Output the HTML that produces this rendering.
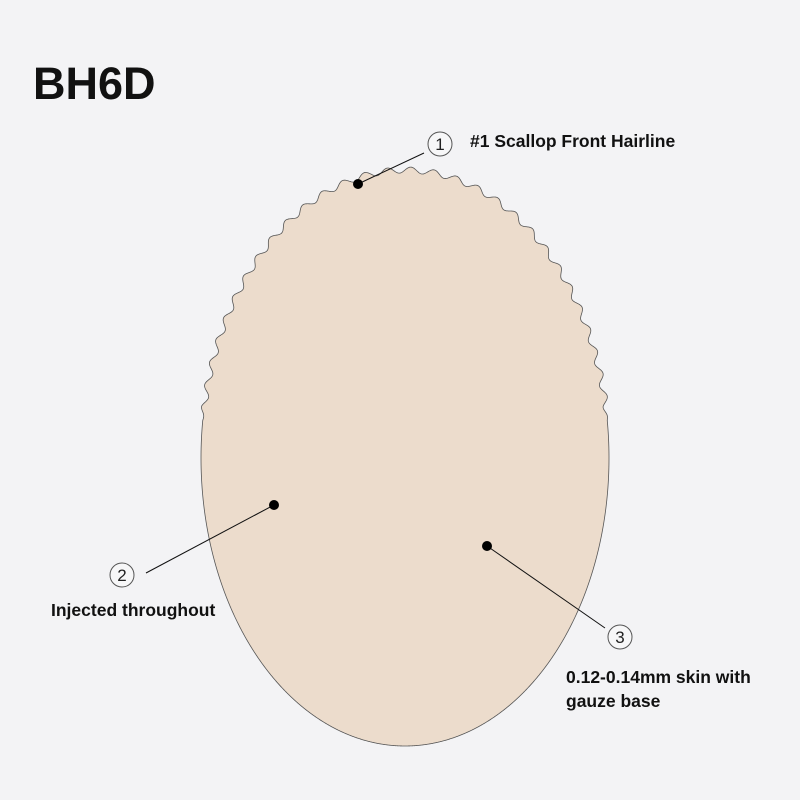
<!DOCTYPE html>
<html><head><meta charset="utf-8"><style>
html,body{margin:0;padding:0;background:#f3f3f5;}
body{width:800px;height:800px;position:relative;overflow:hidden;font-family:"Liberation Sans",sans-serif;color:#111;}
.t{position:absolute;white-space:nowrap;}
</style></head><body>
<div class="t" style="left:33px;top:58px;font-size:45px;font-weight:bold;">BH6D</div>
<svg width="800" height="800" style="position:absolute;left:0;top:0">
<path id="oval" fill="#ecdccc" stroke="#555" stroke-width="0.8" d=""/>
<g stroke="#111" stroke-width="1" fill="none">
<line x1="358" y1="184" x2="424" y2="153"/>
<line x1="274" y1="505" x2="146" y2="573"/>
<line x1="487" y1="546" x2="605" y2="628"/>
</g>
<g fill="#000"><circle cx="358" cy="184" r="5"/><circle cx="274" cy="505" r="5"/><circle cx="487" cy="546" r="5"/></g>
<g stroke="#555" stroke-width="1" fill="#f7f7f8">
<circle cx="440" cy="144" r="12"/><circle cx="122" cy="575" r="12"/><circle cx="620" cy="637" r="12"/>
</g>
<g font-family="Liberation Sans, sans-serif" font-size="17" text-anchor="middle" fill="#222">
<text x="440" y="150">1</text><text x="122" y="581">2</text><text x="620" y="643">3</text>
</g>
</svg>
<div class="t" style="left:470px;top:131px;font-size:17.5px;font-weight:bold;">#1 Scallop Front Hairline</div>
<div class="t" style="left:51px;top:600px;font-size:17.5px;font-weight:bold;">Injected throughout</div>
<div class="t" style="left:566px;top:665px;font-size:17.5px;font-weight:bold;line-height:24px;">0.12-0.14mm skin with<br>gauze base</div>
<script>
(function(){
var cx=405,cy=458,rx=204,ry=288,N=3000,d="",pts=[],s=0,px=null,py=null;
for(var i=0;i<=N;i++){
 var t=-Math.PI+2*Math.PI*i/N;
 var x=cx+rx*Math.sin(t),y=cy-ry*Math.cos(t);
 if(px!==null)s+=Math.hypot(x-px,y-py);px=x;py=y;
 pts.push([t,x,y,s]);
}
// arc length at top (t=0)
var s0=pts[N/2][3];
for(var i=0;i<=N;i++){
 var t=pts[i][0],x=pts[i][1],y=pts[i][2],ss=pts[i][3]-s0;
 if(Math.abs(t)<1.44){
  var nx=Math.sin(t)/rx,ny=-Math.cos(t)/ry,l=Math.hypot(nx,ny);nx/=l;ny/=l;
  var fade=Math.min(1,(1.44-Math.abs(t))/0.05);
  var o=3*Math.sin(2*Math.PI*ss/23)*fade;
  x+=nx*o;y+=ny*o;
 }
 d+=(i?"L":"M")+x.toFixed(2)+" "+y.toFixed(2);
}
document.getElementById("oval").setAttribute("d",d+"Z");
})();
</script>
</body></html>
